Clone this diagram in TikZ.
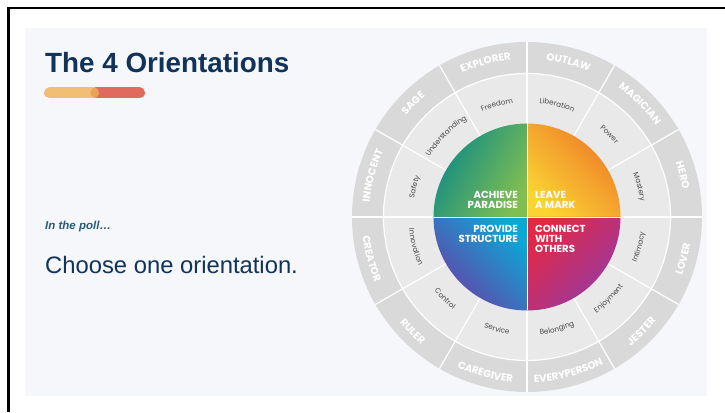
\documentclass[tikz,border=0pt]{standalone}
\usepackage{fontspec}
\setmainfont{Liberation Sans}
\newfontfamily\wheelfont{Poppins}
\usetikzlibrary{decorations.text}

\definecolor{slidebg}{RGB}{245,247,250}
\definecolor{navy}{RGB}{17,51,89}
\definecolor{pollblue}{RGB}{38,90,122}
\definecolor{barorange}{RGB}{240,176,82}
\definecolor{barred}{RGB}{224,106,94}
\definecolor{ringdark}{RGB}{217,217,217}
\definecolor{ringlight}{RGB}{233,233,233}
\definecolor{valuegray}{RGB}{72,72,72}
\definecolor{achTeal}{RGB}{14,138,134}
\definecolor{achGreen}{RGB}{128,190,80}
\definecolor{leaOrange}{RGB}{238,122,40}
\definecolor{leaYellow}{RGB}{250,212,50}
\definecolor{proCyan}{RGB}{10,168,215}
\definecolor{proPurple}{RGB}{104,64,166}
\definecolor{conRed}{RGB}{226,40,68}
\definecolor{conPurple}{RGB}{150,58,166}

\newcommand\archfont{\wheelfont\bfseries\fontsize{10.2}{11}\selectfont}
\newcommand\valfont{\wheelfont\fontsize{7.2}{8}\selectfont}

\tikzset{
  archlabel/.style={decorate, decoration={text along path, text align=center,
      text color=white, text/.expanded={|\noexpand\archfont|#1}}},
  valuelabel/.style={decorate, decoration={text along path, text align=center,
      text color=valuegray, text/.expanded={|\noexpand\valfont|#1}}},
  divider/.style={white, line width=1.2pt},
  quadtext/.style={text=white, inner sep=0pt, align=#1,
      font=\wheelfont\bfseries\fontsize{10.2}{10}\selectfont}
}

\begin{document}
\begin{tikzpicture}[x=1pt, y=1pt]
\useasboundingbox (0,0) rectangle (725,412);

% slide and frame
\fill[slidebg] (25,15.5) rectangle (706.5,384);
\draw[line width=2.3pt] (8.5,0) -- (8.5,404.3) -- (725,404.3);

\node[anchor=base west, inner sep=0pt, text=navy, font=\bfseries\fontsize{27.8}{30}\selectfont] (title) at (45,339) {The 4 Orientations};
\draw[barred, line width=11pt, line cap=round] (96,319) -- (139.5,319);
\draw[barorange, opacity=0.8, line width=11pt, line cap=round] (49.5,319) -- (93.5,319);

\node[anchor=base west, inner sep=0pt, text=pollblue, font=\bfseries\itshape\fontsize{11.5}{13}\selectfont] (poll) at (45,182) {In the poll…};
\node[anchor=base west, inner sep=0pt, text=navy, font=\fontsize{23.8}{28}\selectfont] (choose) at (45,138.7) {Choose one orientation.};

    \begin{scope}[shift={(527,195)}]
    \pgfmathsetmacro{\rout}{175}
    \pgfmathsetmacro{\rmid}{143.5}
    \pgfmathsetmacro{\rin}{93.5}

\fill[ringdark] (0,0) circle (\rout);
\fill[ringlight] (0,0) circle (\rmid);
\draw[divider] (0,0) circle (\rmid);
\foreach \a in {0,30,...,330}
    \draw[divider] (\a:\rin) -- (\a:\rout);

    % the four orientations
\shade[top color=achTeal, bottom color=achGreen, shading angle=60] (0,0) -- (90:\rin) arc[start angle=90, end angle=180, radius=\rin] -- cycle;
\shade[top color=leaOrange, bottom color=leaYellow, shading angle=-45] (0,0) -- (0:\rin) arc[start angle=0, end angle=90, radius=\rin] -- cycle;
\shade[top color=proCyan, bottom color=proPurple, shading angle=-45] (0,0) -- (180:\rin) arc[start angle=180, end angle=270, radius=\rin] -- cycle;
\shade[top color=conRed, bottom color=conPurple, shading angle=45] (0,0) -- (270:\rin) arc[start angle=270, end angle=360, radius=\rin] -- cycle;
\draw[white, line width=0.7pt] (-\rin,0) -- (\rin,0) (0,-\rin) -- (0,\rin);

\node[quadtext=right, anchor=south east] (achieve) at (-9,8.7) {ACHIEVE\\PARADISE};
\node[quadtext=left, anchor=south west] (leave) at (8,8.7) {LEAVE\\A MARK};
\node[quadtext=right, anchor=north east] (provide) at (-9,-7.7) {PROVIDE\\STRUCTURE};
\node[quadtext=left, anchor=north west] (connect) at (8,-7.7) {CONNECT\\WITH\\OTHERS};

    % archetypes, outer ring
\foreach \ang/\name in {165/INNOCENT, 135/SAGE, 105/EXPLORER, 75/OUTLAW, 45/MAGICIAN, 15/HERO}
    \path[archlabel=\name] ({\ang+20}:158) arc[start angle=\ang+20, end angle=\ang-20, radius=158];
\foreach \ang/\name in {-15/LOVER, -45/JESTER, -75/EVERYPERSON, -105/CAREGIVER, -135/RULER, -165/CREATOR}
    \path[archlabel=\name] ({\ang-20}:165.5) arc[start angle=\ang-20, end angle=\ang+20, radius=165.5];

    % values, middle ring
\foreach \ang/\name in {165/Safety, 135/Understanding, 105/Freedom, 75/Liberation, 45/Power, 15/Mastery}
    \path[valuelabel=\name] ({\ang+20}:114.5) arc[start angle=\ang+20, end angle=\ang-20, radius=114.5];
\foreach \ang/\name in {-15/Intimacy, -45/Enjoyment, -75/Belonging, -105/Service, -135/Control, -165/Innovation}
    \path[valuelabel=\name] ({\ang-20}:118.5) arc[start angle=\ang-20, end angle=\ang+20, radius=118.5];
    \end{scope}

\end{tikzpicture}
\end{document}
